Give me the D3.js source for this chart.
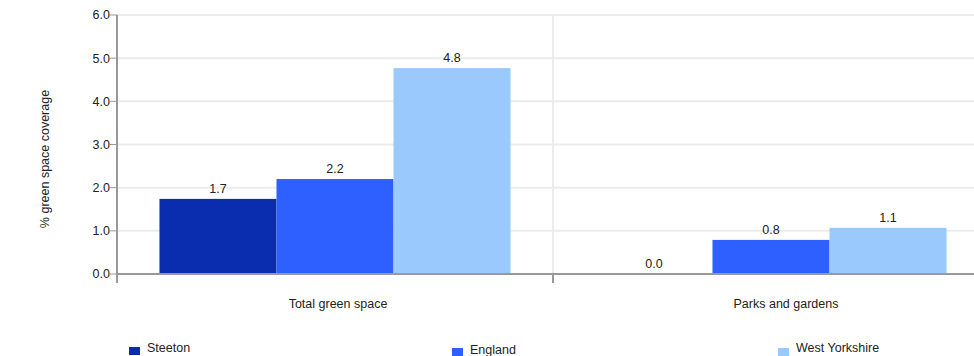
<!DOCTYPE html>
<html>
<head>
<meta charset="utf-8">
<script src="https://cdn.jsdelivr.net/npm/d3@7"></script>
<style>
  html, body { margin: 0; padding: 0; background: #fff; overflow: hidden; }
  svg { display: block; font-family: "Liberation Sans", Arial, sans-serif; }
</style>
</head>
<body>
<svg id="chart" width="974" height="356"></svg>
<script>
const categories = ["Total green space", "Parks and gardens"];
const seriesNames = ["Steeton", "England", "West Yorkshire"];
const steeton = [1.74, 0.0];
const england = [2.2, 0.79];
const westYorkshire = [4.77, 1.07];
const seriesColors = ["#0a2db0", "#2d60ff", "#99c9fd"];
const yTicks = [0, 1, 2, 3, 4, 5, 6];

const seriesValues = [steeton, england, westYorkshire];
const svg = d3.select("#chart");
const pLeft = 117, pRight = 989, pTop = 15, pBottom = 274;

const x0 = d3.scaleBand().domain(categories).range([pLeft, pRight]).padding(0);
const x1 = d3.scaleBand().domain(seriesNames).range([0, x0.bandwidth()]).paddingInner(0).paddingOuter(0.363);
const y = d3.scaleLinear().domain([0, 6]).range([pBottom, pTop]);

// horizontal grid
svg.append("g").selectAll("line").data(yTicks.slice(1)).join("line")
  .attr("x1", pLeft).attr("x2", pRight)
  .attr("y1", d => y(d)).attr("y2", d => y(d))
  .attr("stroke", "#ececec").attr("stroke-width", 2);

// vertical grid between categories
svg.append("g").selectAll("line").data(categories.slice(1)).join("line")
  .attr("x1", d => x0(d)).attr("x2", d => x0(d))
  .attr("y1", pTop).attr("y2", pBottom)
  .attr("stroke", "#ececec").attr("stroke-width", 2);

// bars
const groups = svg.append("g").selectAll("g").data(categories).join("g")
  .attr("transform", d => `translate(${x0(d)},0)`);
groups.selectAll("rect").data((c, i) => seriesNames.map((s, j) => ({s, j, v: seriesValues[j][i]})))
  .join("rect")
  .attr("x", d => x1(d.s)).attr("width", x1.bandwidth())
  .attr("y", d => y(d.v)).attr("height", d => y(0) - y(d.v))
  .attr("fill", d => seriesColors[d.j]);
groups.selectAll("text").data((c, i) => seriesNames.map((s, j) => ({s, j, v: seriesValues[j][i]})))
  .join("text")
  .attr("x", d => x1(d.s) + x1.bandwidth() / 2)
  .attr("y", d => y(d.v) - 6)
  .attr("text-anchor", "middle")
  .attr("font-size", 12.5).attr("fill", "#222")
  .text(d => d.v.toFixed(1));

// axes lines
svg.append("line").attr("x1", pLeft).attr("x2", pLeft).attr("y1", pTop).attr("y2", pBottom + 9)
  .attr("stroke", "#999").attr("stroke-width", 2);
svg.append("line").attr("x1", pLeft).attr("x2", pRight).attr("y1", pBottom).attr("y2", pBottom)
  .attr("stroke", "#999").attr("stroke-width", 2);
// x ticks
svg.append("g").selectAll("line").data(categories).join("line")
  .attr("x1", d => x0(d)).attr("x2", d => x0(d))
  .attr("y1", pBottom).attr("y2", pBottom + 9)
  .attr("stroke", "#999").attr("stroke-width", 2);

// y ticks
const yt = svg.append("g").selectAll("g").data(yTicks).join("g")
  .attr("transform", d => `translate(0,${y(d)})`);
yt.append("line").attr("x1", pLeft - 7).attr("x2", pLeft).attr("stroke", "#999").attr("stroke-width", 1);
yt.append("text").attr("x", pLeft - 7).attr("dy", "0.35em").attr("text-anchor", "end")
  .attr("font-size", 12.5).attr("fill", "#222").text(d => d.toFixed(1));

// x labels
const labelOffsets = [3, 15];
svg.append("g").selectAll("text").data(categories).join("text")
  .attr("x", (d, i) => x0(d) + x0.bandwidth() / 2 + labelOffsets[i])
  .attr("y", 308).attr("text-anchor", "middle")
  .attr("font-size", 12.5).attr("fill", "#222").text(d => d);

// y title
svg.append("text").attr("transform", `translate(49,159) rotate(-90)`)
  .attr("text-anchor", "middle").attr("font-size", 12.5).attr("fill", "#222")
  .text("% green space coverage");

// legend
const legendX = [129, 452, 778];
const legendSqY = [347, 348, 348];
const legendTextY = [352, 354, 352];
const lg = svg.append("g").selectAll("g").data(seriesNames).join("g");
lg.append("rect").attr("x", (d, i) => legendX[i]).attr("y", (d, i) => legendSqY[i])
  .attr("width", 11).attr("height", 8).attr("fill", (d, i) => seriesColors[i]);
lg.append("text").attr("x", (d, i) => legendX[i] + 18).attr("y", (d, i) => legendTextY[i])
  .attr("font-size", 12.5).attr("fill", "#222").text(d => d);
</script>
</body>
</html>
